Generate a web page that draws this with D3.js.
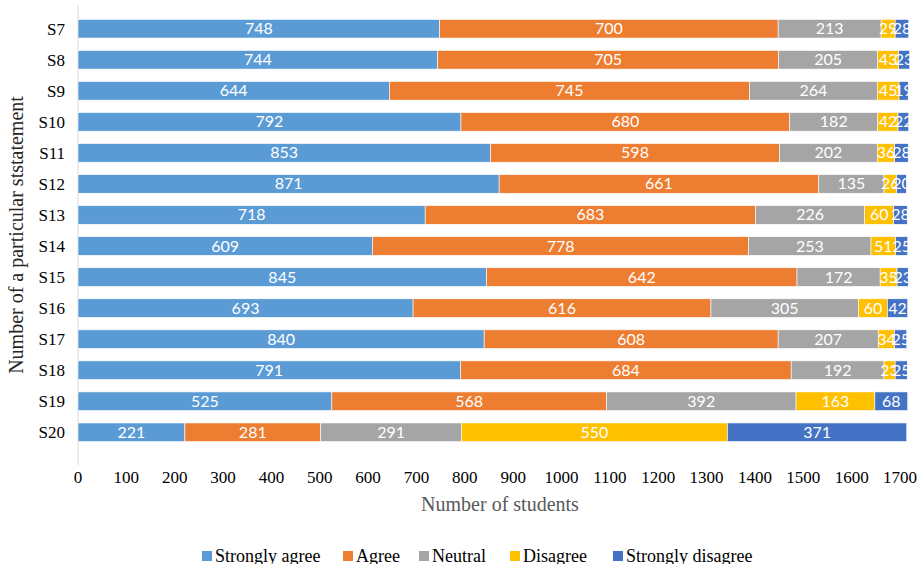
<!DOCTYPE html>
<html>
<head>
<meta charset="utf-8">
<script src="https://cdn.jsdelivr.net/npm/d3@7"></script>
</head>
<body style="margin:0">
<svg id="chart" width="919" height="564">
<text transform="translate(23,235) rotate(-90)" text-anchor="middle" fill="#262626" font-family="Liberation Serif" font-size="20">Number of a particular ststatement</text>
<text x="500" y="511" text-anchor="middle" fill="#595959" font-family="Liberation Serif" font-size="20">Number of students</text>
</svg>
<script>
// Statements, top to bottom
var statements = ["S7", "S8", "S9", "S10", "S11", "S12", "S13", "S14", "S15", "S16", "S17", "S18", "S19", "S20"];

var seriesNames = ["Strongly agree", "Agree", "Neutral", "Disagree", "Strongly disagree"];
var seriesColors = ["#5B9BD5", "#ED7D31", "#A5A5A5", "#FFC000", "#4472C4"];

// One array per response, in the order of statements
var stronglyAgree    = [748, 744, 644, 792, 853, 871, 718, 609, 845, 693, 840, 791, 525, 221];
var agree            = [700, 705, 745, 680, 598, 661, 683, 778, 642, 616, 608, 684, 568, 281];
var neutral          = [213, 205, 264, 182, 202, 135, 226, 253, 172, 305, 207, 192, 392, 291];
var disagree         = [29, 43, 45, 42, 36, 26, 60, 51, 35, 60, 34, 23, 163, 550];
var stronglyDisagree = [28, 23, 19, 22, 28, 20, 28, 25, 23, 42, 25, 25, 68, 371];

var xTicks = d3.range(0, 1701, 100);

var MARGIN = {top: 7, left: 78, right: 900, bottom: 454};
var SERIF = "Liberation Serif";

var table = statements.map(function(s, i) {
	return {
		name: s,
		"Strongly agree": stronglyAgree[i],
		"Agree": agree[i],
		"Neutral": neutral[i],
		"Disagree": disagree[i],
		"Strongly disagree": stronglyDisagree[i]
	};
});

var stacked = d3.stack().keys(seriesNames)(table);

var x = d3.scaleLinear().domain([0, 1700]).range([MARGIN.left, MARGIN.right]);
var y = d3.scaleBand().domain(statements).range([MARGIN.top, MARGIN.bottom]).padding(0.4);

var svg = d3.select("#chart");

//////////// Axis line and labels
svg.append("line")
	.attr("x1", MARGIN.left).attr("x2", MARGIN.left)
	.attr("y1", 5).attr("y2", 465)
	.attr("stroke", "#d9d9d9")
	.attr("stroke-width", 1);

svg.selectAll("text.ylab")
	.data(statements)
  .enter().append("text")
	.attr("class", "ylab")
	.attr("x", 65)
	.attr("y", function(d) { return y(d) + y.bandwidth() / 2 + 6; })
	.attr("text-anchor", "end")
	.attr("font-family", SERIF)
	.attr("font-size", 17)
	.text(function(d) { return d; });

svg.selectAll("text.xlab")
	.data(xTicks)
  .enter().append("text")
	.attr("class", "xlab")
	.attr("x", function(d) { return x(d); })
	.attr("y", 483)
	.attr("text-anchor", "middle")
	.attr("font-family", SERIF)
	.attr("font-size", 17)
	.text(function(d) { return d; });

//////////// Legend
var legendX = [202, 343, 419, 510, 613];

var legend = svg.selectAll("g.legend")
	.data(seriesNames)
  .enter().append("g")
	.attr("class", "legend")
	.attr("transform", function(d, i) { return "translate(" + legendX[i] + ",551)"; });

legend.append("rect")
	.attr("x", 0).attr("y", 0)
	.attr("width", 10).attr("height", 10)
	.attr("fill", function(d, i) { return seriesColors[i]; });

legend.append("text")
	.attr("x", 13)
	.attr("y", 11)
	.attr("font-family", SERIF)
	.attr("font-size", 18)
	.text(function(d) { return d; });

//////////// Bars
var layer = svg.selectAll("g.layer")
	.data(stacked)
  .enter().append("g")
	.attr("class", "layer")
	.attr("fill", function(d, i) { return seriesColors[i]; });

layer.selectAll("rect")
	.data(function(d) { return d; })
  .enter().append("rect")
	.attr("x", function(d) { return x(d[0]); })
	.attr("y", function(d) { return y(d.data.name); })
	.attr("width", function(d) { return x(d[1]) - x(d[0]); })
	.attr("height", y.bandwidth())
	.attr("stroke", "#fff")
	.attr("stroke-width", 0.6);

// Value labels in the middle of each segment
layer.selectAll("text")
	.data(function(d) { return d; })
  .enter().append("text")
	.attr("x", function(d) { return (x(d[0]) + x(d[1])) / 2; })
	.attr("y", function(d) { return y(d.data.name) + y.bandwidth() / 2 + 5.5; })
	.attr("text-anchor", "middle")
	.attr("fill", "#ffffff")
	.attr("font-family", "Lato")
	.attr("font-size", 16)
	.text(function(d) { return d[1] - d[0]; });
</script>
</body>
</html>
